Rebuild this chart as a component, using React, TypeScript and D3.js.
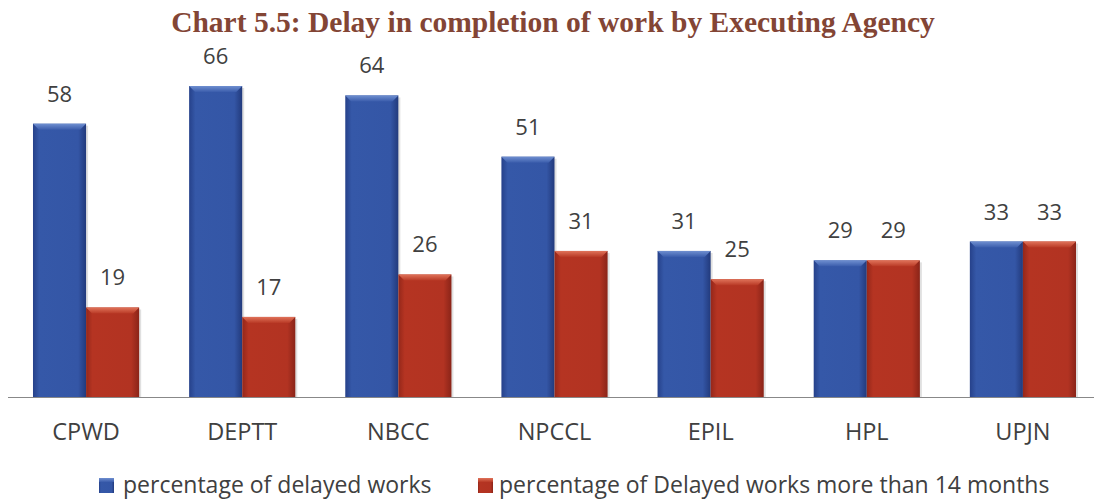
import React from "react";
import * as d3 from "d3";

const categories = ["CPWD", "DEPTT", "NBCC", "NPCCL", "EPIL", "HPL", "UPJN"];
const delayed = [58, 66, 64, 51, 31, 29, 33];
const delayed14 = [19, 17, 26, 31, 25, 29, 33];
const seriesNames = ["percentage of delayed works", "percentage of Delayed works more than 14 months"];

const W = 1094, H = 501;
const font = "'Open Sans', 'Noto Sans', sans-serif";

export default function App() {
  const x = d3.scaleBand<string>().domain(categories).range([8, 1101]).paddingInner(0.32).paddingOuter(0.16);
  const x1 = d3.scaleBand<number>().domain([0, 1]).range([0, x.bandwidth()]);
  const y = d3.scaleLinear().domain([0, 66]).range([397, 86]);
  const series = [delayed, delayed14];
  const grads = ["gBlue", "gRed"];
  const tops = ["tBlue", "tRed"];
  const legend = [
    { sx: 99, tx: 123 },
    { sx: 478, tx: 499 },
  ];
  return (
    <svg width={W} height={H} style={{ position: "absolute", left: 0, top: 0, background: "#fff" }}>
      <defs>
        <linearGradient id="gBlue" x1="0" x2="1" y1="0" y2="0">
          <stop offset="0" stopColor="#26418a" />
          <stop offset="0.12" stopColor="#3558a8" />
          <stop offset="0.85" stopColor="#3456a6" />
          <stop offset="1" stopColor="#223a7c" />
        </linearGradient>
        <linearGradient id="gRed" x1="0" x2="1" y1="0" y2="0">
          <stop offset="0" stopColor="#94271a" />
          <stop offset="0.12" stopColor="#b53422" />
          <stop offset="0.85" stopColor="#b23322" />
          <stop offset="1" stopColor="#8a2418" />
        </linearGradient>
        <linearGradient id="tBlue" x1="0" x2="0" y1="0" y2="1">
          <stop offset="0" stopColor="#6f8fd0" />
          <stop offset="1" stopColor="#3b5dac" />
        </linearGradient>
        <linearGradient id="tRed" x1="0" x2="0" y1="0" y2="1">
          <stop offset="0" stopColor="#e0735a" />
          <stop offset="1" stopColor="#b93a26" />
        </linearGradient>
      </defs>
      <text x={553} y={32} textAnchor="middle" fontFamily="'Liberation Serif', 'Times New Roman', serif" fontWeight="bold" fontSize={29.5} fill="#834535">
        Chart 5.5: Delay in completion of work by Executing Agency
      </text>
      {categories.map((c, i) => (
        <g key={c}>
          {series.map((s, k) => {
            const bx = (x(c) as number) + (x1(k) as number);
            const bw = x1.bandwidth();
            const by = y(s[i]);
            const bh = y(0) - by;
            return (
              <g key={k}>
                <rect x={bx + 2} y={by + 2} width={bw} height={bh - 2} fill="#000" opacity={0.12} />
                <rect x={bx} y={by} width={bw} height={bh} fill={`url(#${grads[k]})`} />
                <path d={`M${bx},${by} L${bx + bw},${by} L${bx + bw - 6},${by + 6} L${bx + 6},${by + 6} Z`} fill={`url(#${tops[k]})`} />
                <text x={bx + bw / 2} y={by - 22} textAnchor="middle" fontFamily={font} fontSize={22} fill="#404040">{s[i]}</text>
              </g>
            );
          })}
          <text x={(x(c) as number) + x.bandwidth() / 2} y={440} textAnchor="middle" fontFamily={font} fontSize={23.5} fill="#404040">{c}</text>
        </g>
      ))}
      <line x1={8} x2={1094} y1={397.5} y2={397.5} stroke="#888" strokeWidth={1.2} />
      {seriesNames.map((n, k) => (
        <g key={n}>
          <rect x={legend[k].sx} y={478} width={15} height={15} fill={`url(#${grads[k]})`} />
          <rect x={legend[k].sx} y={478} width={15} height={4} fill={`url(#${tops[k]})`} />
          <text x={legend[k].tx} y={493} fontFamily={font} fontSize={23} fill="#404040">{n}</text>
        </g>
      ))}
    </svg>
  );
}
